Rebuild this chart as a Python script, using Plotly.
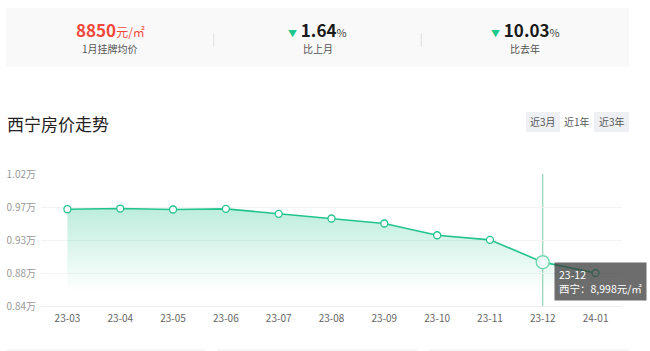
import plotly.graph_objects as go

# ---------------- data ----------------
months = ['23-03', '23-04', '23-05', '23-06', '23-07', '23-08',
          '23-09', '23-10', '23-11', '23-12', '24-01']
prices = [9720, 9729, 9716, 9725, 9657, 9593, 9525, 9365, 9302, 8998, 8850]
tick_vals = [8400, 8850, 9300, 9750, 10200]
tick_text = ['0.84万', '0.88万', '0.93万', '0.97万', '1.02万']

current_price = '8850'
month_change = '1.64'
year_change = '10.03'
card_labels = ['1月挂牌均价', '比上月', '比去年']
buttons = ['近3月', '近1年', '近3年']
title = '西宁房价走势'
hover_index = 9
city = '西宁'

# ---------------- layout helpers ----------------
W, H = 650, 351
L, R, T, B = 41, 622, 174, 306
FONT = 'Noto Sans CJK SC'
GREEN = '#22c48c'


def px(x):
    return (x - L) / (R - L)


def py(y):
    return (B - y) / (B - T)


fig = go.Figure()

# area + line
fig.add_trace(go.Scatter(
    x=months, y=prices, mode='lines+markers',
    line=dict(color=GREEN, width=1.6),
    marker=dict(size=7, color='white', line=dict(color=GREEN, width=1.3)),
    fill='tozeroy',
    fillgradient=dict(type='vertical',
                      colorscale=[[0, 'rgba(34,196,140,0)'],
                                  [1, 'rgba(34,196,140,0.30)']],
                      start=8600, stop=9730),
    hoverinfo='skip', showlegend=False,
))

# emphasized point
fig.add_trace(go.Scatter(
    x=[months[hover_index]], y=[prices[hover_index]], mode='markers',
    marker=dict(size=13, color='rgba(255,255,255,0.85)',
                line=dict(color='#6fd8ae', width=1.5)),
    hoverinfo='skip', showlegend=False,
))

shapes = []
annotations = []

# hover guide line
shapes.append(dict(type='line', xref='x', yref='paper',
                   x0=months[hover_index], x1=months[hover_index], y0=0, y1=1,
                   line=dict(color='#7fc9a8', width=1), layer='below'))

# top card background
shapes.append(dict(type='rect', xref='paper', yref='paper',
                   x0=px(6), x1=px(629), y0=py(67), y1=py(8),
                   fillcolor='#f9f9f9', line=dict(width=0), layer='below'))
for dx in (213.7, 421.3):
    shapes.append(dict(type='line', xref='paper', yref='paper',
                       x0=px(dx), x1=px(dx), y0=py(47), y1=py(33),
                       line=dict(color='#e2e2e2', width=1)))

# buttons
btn_x = [526, 560, 594, 629]
for i, b in enumerate(buttons):
    shapes.append(dict(type='rect', xref='paper', yref='paper',
                       x0=px(btn_x[i]), x1=px(btn_x[i + 1]),
                       y0=py(132), y1=py(112),
                       fillcolor='white' if i == 1 else '#eef0f3',
                       line=dict(width=0), layer='below'))
    annotations.append(dict(xref='paper', yref='paper',
                            x=px((btn_x[i] + btn_x[i + 1]) / 2), y=py(122),
                            text=b, showarrow=False,
                            font=dict(size=10, color='#555', family=FONT),
                            xanchor='center', yanchor='middle'))

# bottom faint card tops
for x0, x1 in ((6, 205), (218, 417), (429, 629)):
    shapes.append(dict(type='rect', xref='paper', yref='paper',
                       x0=px(x0), x1=px(x1), y0=py(351), y1=py(349),
                       fillcolor='#f6f6f6', line=dict(width=0)))

# card texts
centers = [110, 317.5, 525]
annotations.append(dict(
    xref='paper', yref='paper', x=px(centers[0]), y=py(29.5),
    text=f"<b>{current_price}</b><span style='font-size:12px'>元/㎡</span>",
    showarrow=False, xanchor='center', yanchor='middle',
    font=dict(size=17, color='#f5483b', family=FONT)))
for c, val in ((centers[1], month_change), (centers[2], year_change)):
    annotations.append(dict(
        xref='paper', yref='paper', x=px(c), y=py(29.5),
        text=(f"<span style='color:#1dc88c;font-size:9px'>▼</span> "
              f"<b>{val}</b><span style='font-size:11px;color:#444'>%</span>"),
        showarrow=False, xanchor='center', yanchor='middle',
        font=dict(size=17, color='#1a1a1a', family=FONT)))
for c, lab in zip(centers, card_labels):
    annotations.append(dict(
        xref='paper', yref='paper', x=px(c), y=py(48.5), text=lab,
        showarrow=False, xanchor='center', yanchor='middle',
        font=dict(size=10, color='#555', family=FONT)))

# title
annotations.append(dict(
    xref='paper', yref='paper', x=px(5), y=py(124), text=title,
    showarrow=False, xanchor='left', yanchor='middle',
    font=dict(size=17, color='#222', family=FONT)))

# tooltip
annotations.append(dict(
    xref='x', yref='y', x=months[hover_index], y=prices[hover_index],
    xanchor='left', yanchor='top', xshift=11, yshift=0,
    text=f"{months[hover_index]}<br>{city}：{prices[hover_index]:,}元/㎡",
    showarrow=False, align='left',
    bgcolor='rgba(60,60,60,0.75)', borderpad=4, bordercolor='rgba(0,0,0,0)',
    font=dict(size=10.5, color='white', family=FONT)))

fig.update_layout(
    width=W, height=H,
    margin=dict(l=L, r=W - R, t=T, b=H - B, pad=0, autoexpand=False),
    paper_bgcolor='white', plot_bgcolor='white',
    font=dict(family=FONT),
    shapes=shapes, annotations=annotations,
    xaxis=dict(type='category', range=[-0.5, len(months) - 0.5],
               showgrid=False, zeroline=False, automargin=False,
               showline=True, linecolor='#eeeeee', linewidth=1,
               ticks='', ticklabelstandoff=3,
               tickfont=dict(size=10, color='#666', family=FONT),
               fixedrange=True),
    yaxis=dict(range=[tick_vals[0], tick_vals[-1]],
               tickvals=tick_vals, ticktext=tick_text, automargin=False,
               showgrid=True, gridcolor='#f3f3f3', gridwidth=1,
               zeroline=False, showline=False, ticks='',
               ticklabelstandoff=4,
               tickfont=dict(size=10, color='#999', family=FONT),
               fixedrange=True),
    hovermode=False,
)

fig.write_html('out.html', config={'displayModeBar': False})
